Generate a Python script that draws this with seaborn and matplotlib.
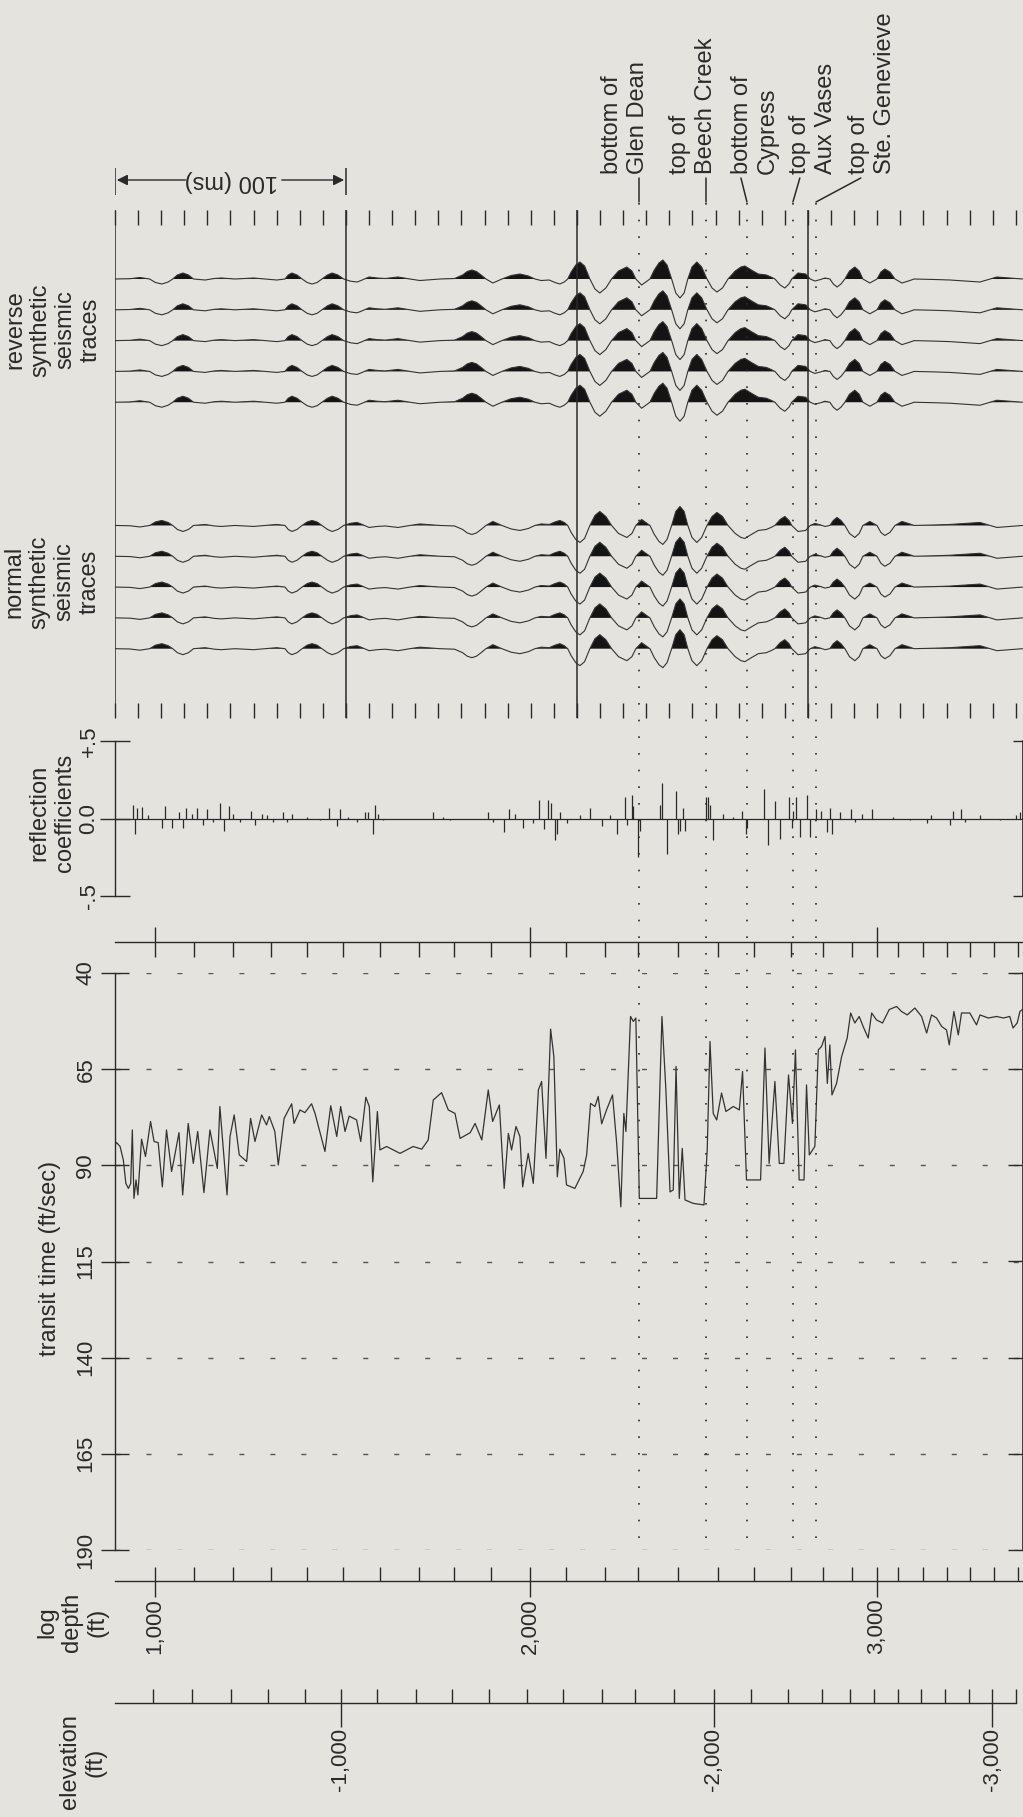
import matplotlib
matplotlib.use('Agg')
import numpy as np
import pandas as pd
import matplotlib.pyplot as plt
from matplotlib.ticker import FixedLocator, MultipleLocator
import seaborn as sns

W, H = 1023, 1817
BG = '#e5e3de'
INK = '#2a2a2a'
FILL = '#141414'

sns.set_theme(style='ticks', rc={'figure.facecolor': BG, 'savefig.facecolor': BG,
                                 'axes.facecolor': 'none'})
plt.rcParams['font.family'] = ['Liberation Sans', 'DejaVu Sans']

# ---- data (two-way time in ms from the left edge of the section) ----
# reverse-polarity synthetic trace, amplitude in arbitrary units
trace_points = [
    (0.0, 0), (6.5, 0.3), (10.8, 1.5), (15.0, 0), (17.5, -3.5), (20.3, -5), (23.0, -3),
    (25.0, 0), (27.0, 4), (29.4, 6), (31.8, 4), (34.0, 0), (39.0, -1), (43.0, 0.5),
    (46.0, 1), (52.0, 0), (60.0, 1), (65.0, 0), (70.0, -1), (73.6, 0), (75.0, 4),
    (76.6, 6), (78.8, 4), (81.0, 0), (83.2, -3.5), (85.3, -5), (87.5, -3.5), (89.6, 0),
    (92.0, 4), (94.0, 6), (96.5, 4), (99.0, 0), (102.0, -2.2), (104.8, -3), (106.5, -1.5),
    (108.0, 0), (110.0, 2), (113.5, 1), (117.0, 0.5), (122.5, 2), (127.7, 0), (132.0, -1.5),
    (140.7, 0), (147.0, 0.5), (150.5, 4), (152.5, 7.5), (154.5, 9), (156.5, 7.5),
    (158.5, 4), (160.6, 0), (163.6, -4), (167.5, 0), (171.5, 3.5), (175.3, 5), (179.0, 3),
    (181.8, 0), (184.5, -1.5), (188.0, -1), (190.5, -3.5), (192.6, -5), (194.5, -3),
    (196.0, 0), (197.5, 7), (199.5, 14), (201.3, 17), (203.3, 13), (205.6, 0), (207.8, -10),
    (209.9, -14), (212.5, -9), (215.0, 0), (218.0, 8), (221.6, 12), (223.8, 8), (225.5, 0),
    (228.0, -6), (231.6, 0), (233.5, 9), (235.5, 16), (237.2, 19), (239.0, 14), (241.0, 0),
    (242.8, -14), (244.6, -19), (246.4, -14), (248.0, 0), (249.8, 12), (251.9, 17),
    (254.0, 12), (256.3, 0), (258.5, -9), (260.6, -13), (263.0, -9), (265.4, 0), (268.5, 8),
    (271.0, 12), (272.7, 13), (275.5, 9), (278.5, 5), (282.0, 4), (284.0, 2), (285.7, 0),
    (288.0, -6), (290.0, -9), (291.8, -5), (293.0, 0), (295.7, 6), (299.0, 5), (301.0, 0),
    (303.0, -2), (305.5, -0.5), (307.4, 1), (309.5, 0), (311.0, -5), (312.6, -8),
    (314.3, -5), (316.0, 0), (318.0, 8), (320.3, 12), (322.2, 8), (323.8, 0), (326.8, -4),
    (329.9, 0), (331.6, 7), (333.3, 10), (335.5, 7), (337.7, 0), (340.7, -4), (343.5, -2),
    (346.0, 0), (355.0, -0.5), (361.5, -1), (368.0, -2), (374.5, -3), (378.8, 0),
    (381.8, 2), (387.4, 1), (392.9, 0)]
reverse_offsets = [0, -1, -2, -3, -4]
normal_offsets = [-8, -9, -10, -11, -12]
trace_gain = 1 / 30.8

rc_points = [
    (7.6, 0.087), (8.7, -0.097), (9.7, 0.065), (11.5, 0.076), (14.4, 0.02), (20.5, -0.06),
    (21.6, 0.08), (24.5, -0.06), (27.7, 0.04), (29.3, -0.06), (30.7, 0.07), (33.2, 0.03),
    (35.6, 0.07), (38.2, -0.04), (39.7, 0.06), (42.6, -0.02), (45.5, 0.1), (47.2, -0.08),
    (49.5, 0.08), (51.2, 0.03), (54.1, -0.02), (58.7, 0.05), (60.6, -0.04), (63.5, 0.03),
    (65.7, 0.02), (68.5, -0.02), (72.9, 0.04), (74.6, -0.02), (76.5, 0.03), (83.0, 0.01),
    (88.7, -0.01), (92.8, 0.07), (96.2, -0.05), (97.4, 0.06), (101.0, 0.01), (104.6, -0.02),
    (108.2, 0.04), (109.7, 0.04), (111.5, -0.1), (112.6, 0.09), (114.0, 0.03),
    (116.2, -0.01), (137.8, 0.04), (142.1, 0.01), (145.0, -0.01), (161.6, 0.04),
    (163.8, -0.02), (168.4, -0.09), (170.7, 0.06), (173.2, 0.03), (176.5, -0.06),
    (180.8, -0.03), (183.7, 0.12), (185.7, -0.07), (187.6, 0.12), (188.6, 0.1),
    (190.5, -0.14), (191.2, -0.1), (192.6, 0.04), (195.5, -0.03), (201.3, 0.02),
    (205.6, 0.07), (210.7, -0.05), (214.3, 0.02), (217.2, -0.1), (220.8, 0.14),
    (221.8, -0.04), (223.7, 0.15), (224.4, 0.08), (226.5, -0.25), (227.3, -0.08),
    (235.9, 0.09), (236.9, 0.23), (238.8, -0.23), (242.9, 0.18), (243.9, -0.1),
    (244.6, -0.08), (245.7, 0.07), (246.8, -0.08), (255.8, 0.14), (256.8, 0.14),
    (257.6, 0.09), (258.7, -0.14), (263.1, 0.03), (267.7, 0.01), (271.6, 0.05),
    (273.2, -0.1), (273.7, -0.06), (281.0, 0.19), (282.8, -0.17), (285.7, 0.11),
    (287.9, -0.13), (291.6, 0.14), (293.1, -0.06), (293.6, 0.05), (294.8, 0.14),
    (296.5, -0.12), (299.7, 0.15), (300.9, -0.12), (303.5, 0.06), (305.5, 0.05),
    (308.4, -0.09), (309.5, 0.07), (310.5, -0.1), (313.9, 0.04), (318.5, 0.06),
    (320.3, -0.02), (323.2, 0.03), (327.6, 0.06), (336.9, 0.01), (344.2, -0.01),
    (351.4, -0.03), (353.5, 0.02), (361.5, -0.04), (362.6, 0.05), (366.4, 0.06),
    (368.0, -0.02), (374.5, 0.02), (383.1, -0.01), (390.0, 0.02), (391.8, 0.04)]
rc_ticks = [-0.5, 0.0, 0.5]
rc_ticklabels = ['-.5', '0.0', '+.5']

# sonic log, transit time
tt_points = [
    (0.0, 84.7), (0.7, 84.1), (2.2, 85.1), (3.6, 88.6), (4.7, 94.7), (5.8, 96.0), (6.8, 94.7),
    (7.5, 80.8), (8.2, 98.6), (9.1, 93.8), (9.9, 97.7), (11.5, 83.2), (13.2, 87.7),
    (15.4, 78.6), (16.9, 83.8), (18.7, 84.1), (20.5, 95.6), (22.3, 80.8), (24.5, 91.6),
    (25.5, 88.6), (27.7, 81.5), (29.3, 97.7), (31.7, 79.1), (33.9, 89.5), (35.8, 81.2),
    (38.5, 97.1), (41.1, 80.8), (44.3, 90.8), (45.4, 74.7), (46.9, 86.0), (48.5, 97.7),
    (49.8, 82.5), (51.6, 76.9), (53.8, 87.3), (57.0, 89.0), (58.7, 77.8), (60.6, 83.8),
    (63.5, 76.9), (65.6, 79.5), (66.8, 77.3), (69.2, 81.2), (70.7, 89.9), (73.2, 77.8),
    (76.5, 74.0), (77.5, 79.1), (80.1, 75.6), (82.2, 76.3), (85.1, 74.0), (86.6, 76.5),
    (90.9, 86.4), (93.4, 74.5), (96.0, 82.5), (97.7, 74.7), (99.6, 81.2), (101.4, 77.2),
    (104.6, 78.2), (106.4, 83.8), (108.6, 72.3), (110.1, 74.7), (111.6, 94.3), (113.6, 76.0),
    (114.7, 86.0), (117.6, 85.1), (123.4, 86.9), (129.1, 85.1), (132.8, 85.8), (135.6, 83.4),
    (137.8, 73.0), (141.4, 71.1), (144.3, 75.6), (147.2, 76.5), (149.4, 83.0), (153.8, 81.5),
    (155.9, 79.1), (158.8, 83.4), (161.6, 70.4), (163.5, 78.6), (166.4, 74.3), (168.5, 96.0),
    (170.3, 81.7), (171.7, 86.0), (173.6, 79.9), (175.3, 82.5), (176.5, 95.6), (178.9, 86.9),
    (181.1, 94.7), (183.3, 70.4), (184.7, 68.2), (186.6, 88.2), (188.6, 54.6), (190.0, 61.7),
    (191.5, 93.0), (192.6, 85.8), (194.4, 88.2), (195.5, 95.1), (199.1, 96.0), (202.7, 91.6),
    (204.2, 87.3), (205.9, 73.9), (207.8, 74.7), (209.2, 72.1), (210.7, 79.2), (212.8, 75.6),
    (215.4, 71.7), (217.2, 84.3), (219.0, 100.8), (220.3, 76.5), (221.2, 81.2), (223.2, 51.3),
    (224.4, 52.6), (225.5, 51.7), (227.0, 98.6), (234.5, 98.6), (236.8, 51.3), (238.5, 70.4),
    (240.3, 96.9), (241.7, 96.4), (242.9, 64.3), (244.3, 98.6), (245.6, 85.6), (246.8, 99.0),
    (250.4, 99.9), (255.0, 100.3), (256.4, 86.0), (257.6, 57.8), (259.0, 76.5), (260.5, 78.2),
    (262.6, 71.2), (264.5, 76.0), (267.7, 74.7), (270.3, 75.6), (271.7, 65.6), (273.4, 93.8),
    (276.3, 93.8), (279.5, 93.8), (281.4, 59.5), (283.2, 89.5), (285.7, 68.2), (287.6, 89.5),
    (289.6, 89.5), (291.6, 66.5), (293.3, 79.1), (294.6, 60.0), (296.2, 93.8), (298.3, 93.8),
    (299.4, 69.1), (300.6, 87.3), (303.0, 85.1), (304.5, 60.0), (305.9, 59.1), (307.4, 56.5),
    (308.4, 68.7), (309.5, 58.7), (310.4, 71.7), (312.4, 68.7), (314.6, 61.7), (317.0, 56.9),
    (318.5, 50.4), (320.3, 53.0), (322.2, 51.3), (323.9, 53.9), (326.1, 56.9), (327.6, 50.4),
    (329.7, 52.2), (332.3, 53.0), (335.2, 49.5), (338.4, 48.7), (340.5, 50.0), (343.0, 50.9),
    (346.3, 49.1), (349.2, 51.3), (351.4, 55.6), (353.5, 50.9), (355.7, 51.7), (357.9, 53.9),
    (360.0, 54.8), (361.2, 58.7), (363.2, 50.0), (365.1, 56.1), (366.5, 50.4), (370.1, 50.4),
    (373.0, 53.5), (374.5, 50.9), (378.1, 51.7), (381.7, 51.3), (384.6, 51.7), (387.4, 51.3),
    (388.8, 54.3), (390.6, 53.0), (391.8, 50.0), (392.9, 49.5)]
tt_ticks = [40, 65, 90, 115, 140, 165, 190]

# depth scale (log depth, ft) and its position on the time axis
depth_ft = list(range(1000, 3700, 100))
depth_ms = [17.3, 34.2, 51.1, 67.5, 83.1, 98.7, 114.7, 131.6, 146.8, 162.8, 179.7, 195.2,
            212.1, 226.4, 243.7, 261.0, 276.6, 292.6, 306.5, 319.0, 329.9, 339.0, 349.8,
            360.2, 370.1, 380.5, 390.9]
elev_ft = list(range(-500, -3200, -100))
elev_ms = [16.5, 33.3, 50.2, 66.2, 82.3, 97.8, 113.4, 130.3, 145.9, 161.9, 178.4, 193.9,
           210.8, 225.1, 242.0, 259.3, 275.3, 291.3, 306.1, 318.2, 328.6, 339.0, 348.9,
           359.3, 369.7, 379.7, 390.0]

# formation tops
formation_ms = [226.8, 255.8, 273.6, 293.5, 303.5]
formation_names = ['bottom of\nGlen Dean', 'top of\nBeech Creek', 'bottom of\nCypress',
                   'top of\nAux Vases', 'top of\nSte. Genevieve']
label_ms = [220.8, 250.2, 277.1, 302.2, 327.7]
leader_ms = [226.8, 255.8, 271.0, 296.5, 322.9]
time_marks_ms = [0, 100, 200, 300]

tr = pd.DataFrame(trace_points, columns=['ms', 'amp'])
rc = pd.DataFrame(rc_points, columns=['ms', 'coef'])
tt = pd.DataFrame(tt_points, columns=['ms', 'transit'])

# ---- layout ----
X0, X1 = 115, 1022.5
T_MAX = 392.9

fig = plt.figure(figsize=(W / 100, H / 100), dpi=100)


def add_ax(x0, y0, x1, y1):
    ax = fig.add_axes([x0 / W, 1 - y1 / H, (x1 - x0) / W, (y1 - y0) / H])
    ax.set_facecolor('none')
    for s in ax.spines.values():
        s.set_visible(False)
        s.set_color(INK)
        s.set_linewidth(1.0)
    ax.set_xticks([])
    ax.set_yticks([])
    return ax


def fin(ax):
    ax.set_xlim(0, T_MAX)
    ax.set_xlabel('')
    ax.set_ylabel('')


def left_labels(ax, ticks, labels, xpix):
    # tick labels written beside the left axis, rotated like the rest of the sheet
    xf = (xpix - X0) / (X1 - X0)
    for v, s in zip(ticks, labels):
        ax.text(xf, v, s, transform=ax.get_yaxis_transform(), rotation=90,
                ha='center', va='center', fontsize=16, color=INK, clip_on=False)


# synthetic traces
ax_tr = add_ax(X0, 210, X1, 718)
for off, sign in [(o, 1) for o in reverse_offsets] + [(o, -1) for o in normal_offsets]:
    y = off + sign * tr['amp'] * trace_gain
    sns.lineplot(x=tr['ms'], y=y, ax=ax_tr, color='#333333', lw=0.8,
                 estimator=None, sort=False)
    ax_tr.fill_between(tr['ms'], off, y, where=(y > off), interpolate=True,
                       color=FILL, lw=0)
ax_tr.set_ylim(-14.25, 2.24)
ax_tr.xaxis.set_major_locator(MultipleLocator(10))
ax_tr.tick_params(axis='x', which='major', direction='in', top=True, bottom=True,
                  length=11, width=1, color=INK, labelbottom=False, labeltop=False)
fin(ax_tr)

# reflection coefficients
ax_rc = add_ax(X0, 741, X1, 896)
ax_rc.vlines(rc['ms'], 0, rc['coef'], color=INK, lw=0.9)
ax_rc.axhline(0, color=INK, lw=0.9)
ax_rc.set_ylim(-0.5, 0.5)
ax_rc.spines['left'].set_visible(True)
ax_rc.set_yticks(rc_ticks)
ax_rc.tick_params(axis='y', direction='inout', length=21, width=1, color=INK,
                  left=True, right=False, labelleft=False)
left_labels(ax_rc, rc_ticks, rc_ticklabels, 89)
fin(ax_rc)
ax_rc2 = ax_rc.twinx()
for s in ax_rc2.spines.values():
    s.set_visible(False)
ax_rc2.spines['right'].set_visible(True)
ax_rc2.spines['right'].set_color(INK)
ax_rc2.set_ylim(-0.5, 0.5)
ax_rc2.set_yticks([rc_ticks[0], rc_ticks[-1]])
ax_rc2.tick_params(axis='y', direction='in', length=7, width=1, color=INK,
                   labelright=False, right=True)
ax_rc.tick_params(axis='y', labelleft=False)

# depth ticks along the top of the log
ax_d0 = add_ax(X0, 927, X1, 942)
ax_d0.spines['bottom'].set_visible(True)
depth_major = [m for d, m in zip(depth_ft, depth_ms) if d % 1000 == 0]
ax_d0.xaxis.set_major_locator(FixedLocator(depth_major))
ax_d0.xaxis.set_minor_locator(FixedLocator(depth_ms))
ax_d0.xaxis.remove_overlapping_locs = False
ax_d0.tick_params(axis='x', which='minor', direction='out', length=11, width=1,
                  color=INK, bottom=True)
ax_d0.tick_params(axis='x', which='major', direction='in', length=11, width=1,
                  color=INK, bottom=True, labelbottom=False)
fin(ax_d0)

# transit time log
ax_tt = add_ax(X0, 973, X1, 1550)
sns.lineplot(data=tt, x='ms', y='transit', ax=ax_tt, color='#333333', lw=0.9,
             estimator=None, sort=False)
ax_tt.set_ylim(190, 40)
ax_tt.spines['left'].set_visible(True)
ax_tt.set_yticks(tt_ticks)
ax_tt.tick_params(axis='y', direction='inout', length=20, width=1, color=INK,
                  left=True, right=False, labelleft=False)
ax_tt.yaxis.grid(True, linestyle=(0, (3.6, 18.7)), color='#555555', lw=1.0)
left_labels(ax_tt, tt_ticks, [str(v) for v in tt_ticks], 86)
fin(ax_tt)
ax_tt2 = ax_tt.twinx()
for s in ax_tt2.spines.values():
    s.set_visible(False)
ax_tt2.spines['right'].set_visible(True)
ax_tt2.spines['right'].set_color(INK)
ax_tt2.set_ylim(190, 40)
ax_tt2.set_yticks(tt_ticks)
ax_tt2.tick_params(axis='y', direction='in', length=11, width=1, color=INK,
                   labelright=False, right=True)
ax_tt.tick_params(axis='y', labelleft=False)

# log depth axis
ax_d1 = add_ax(X0, 1566, X1, 1581)
ax_d1.spines['bottom'].set_visible(True)
ax_d1.xaxis.set_major_locator(FixedLocator(depth_major))
ax_d1.xaxis.set_minor_locator(FixedLocator(depth_ms))
ax_d1.xaxis.remove_overlapping_locs = False
ax_d1.set_xticklabels([f'{d:,}' for d in depth_ft if d % 1000 == 0], rotation=90,
                      fontsize=16, color=INK)
ax_d1.tick_params(axis='x', which='minor', direction='in', length=10, width=1,
                  color=INK, bottom=True)
ax_d1.tick_params(axis='x', which='major', direction='out', length=11.5, width=1,
                  color=INK, bottom=True, pad=1)
fin(ax_d1)

# elevation axis
ax_el = add_ax(X0, 1688, X1, 1703)
ax_el.spines['bottom'].set_visible(True)
ax_el.spines['bottom'].set_bounds(0, elev_ms[-1])
elev_major = [m for e, m in zip(elev_ft, elev_ms) if e % 1000 == 0]
ax_el.xaxis.set_major_locator(FixedLocator(elev_major))
ax_el.xaxis.set_minor_locator(FixedLocator(elev_ms))
ax_el.xaxis.remove_overlapping_locs = False
ax_el.set_xticklabels([f'{e:,}' for e in elev_ft if e % 1000 == 0], rotation=90,
                      fontsize=16, color=INK)
ax_el.tick_params(axis='x', which='minor', direction='in', length=10, width=1,
                  color=INK, bottom=True)
ax_el.tick_params(axis='x', which='major', direction='out', length=17, width=1,
                  color=INK, bottom=True, pad=1)
fin(ax_el)

# overlay: formation tops, time marks, annotations (y in figure pixels)
ax_ov = add_ax(X0, 0, X1, H)
ax_ov.set_ylim(H, 0)
ax_ov.vlines(formation_ms, 203, 1550, colors=INK, lw=1.2, linestyles=(0, (1, 9)))
ax_ov.vlines(time_marks_ms, 210, 718, colors=INK, lw=1.1)
for lx, fx_, name, lm in zip(label_ms, formation_ms, formation_names, leader_ms):
    ax_ov.plot([lm, fx_], [178, 202], color=INK, lw=1.1)
    ax_ov.text(lx, 174, name, rotation=90, ha='center', va='bottom',
               multialignment='left', fontsize=17, linespacing=1.25, color=INK)
# 100 ms scale bar
ax_ov.vlines([time_marks_ms[0], time_marks_ms[1]], 168, 195, colors=INK, lw=1.1)
ax_ov.text(50.4, 181, '100 (ms)', rotation=180, ha='center', va='center',
           fontsize=17, color=INK)
arrow = dict(arrowstyle='-|>', color=INK, lw=1.0, mutation_scale=16, shrinkA=0, shrinkB=0)
ax_ov.annotate('', xy=(0.8, 180), xytext=(30.5, 180), arrowprops=arrow)
ax_ov.annotate('', xy=(99.2, 180), xytext=(72.2, 180), arrowprops=arrow)
fin(ax_ov)
ax_ov.set_ylim(H, 0)

# side labels
side = dict(rotation=90, ha='center', va='center', multialignment='center',
            fontsize=17, linespacing=1.18, color=INK)
fig.text(53 / W, 1 - 330 / H, 'reverse\nsynthetic\nseismic\ntraces', **side)
fig.text(52 / W, 1 - 582 / H, 'normal\nsynthetic\nseismic\ntraces', **side)
fig.text(52 / W, 1 - 813 / H, 'reflection\ncoefficients', **side)
fig.text(50 / W, 1 - 1258 / H, 'transit time (ft/sec)', **side)
fig.text(72 / W, 1 - 1622 / H, 'log\ndepth\n(ft)', **side)
fig.text(83 / W, 1 - 1762 / H, 'elevation\n(ft)', **side)

fig.savefig('out.png', dpi=100)
